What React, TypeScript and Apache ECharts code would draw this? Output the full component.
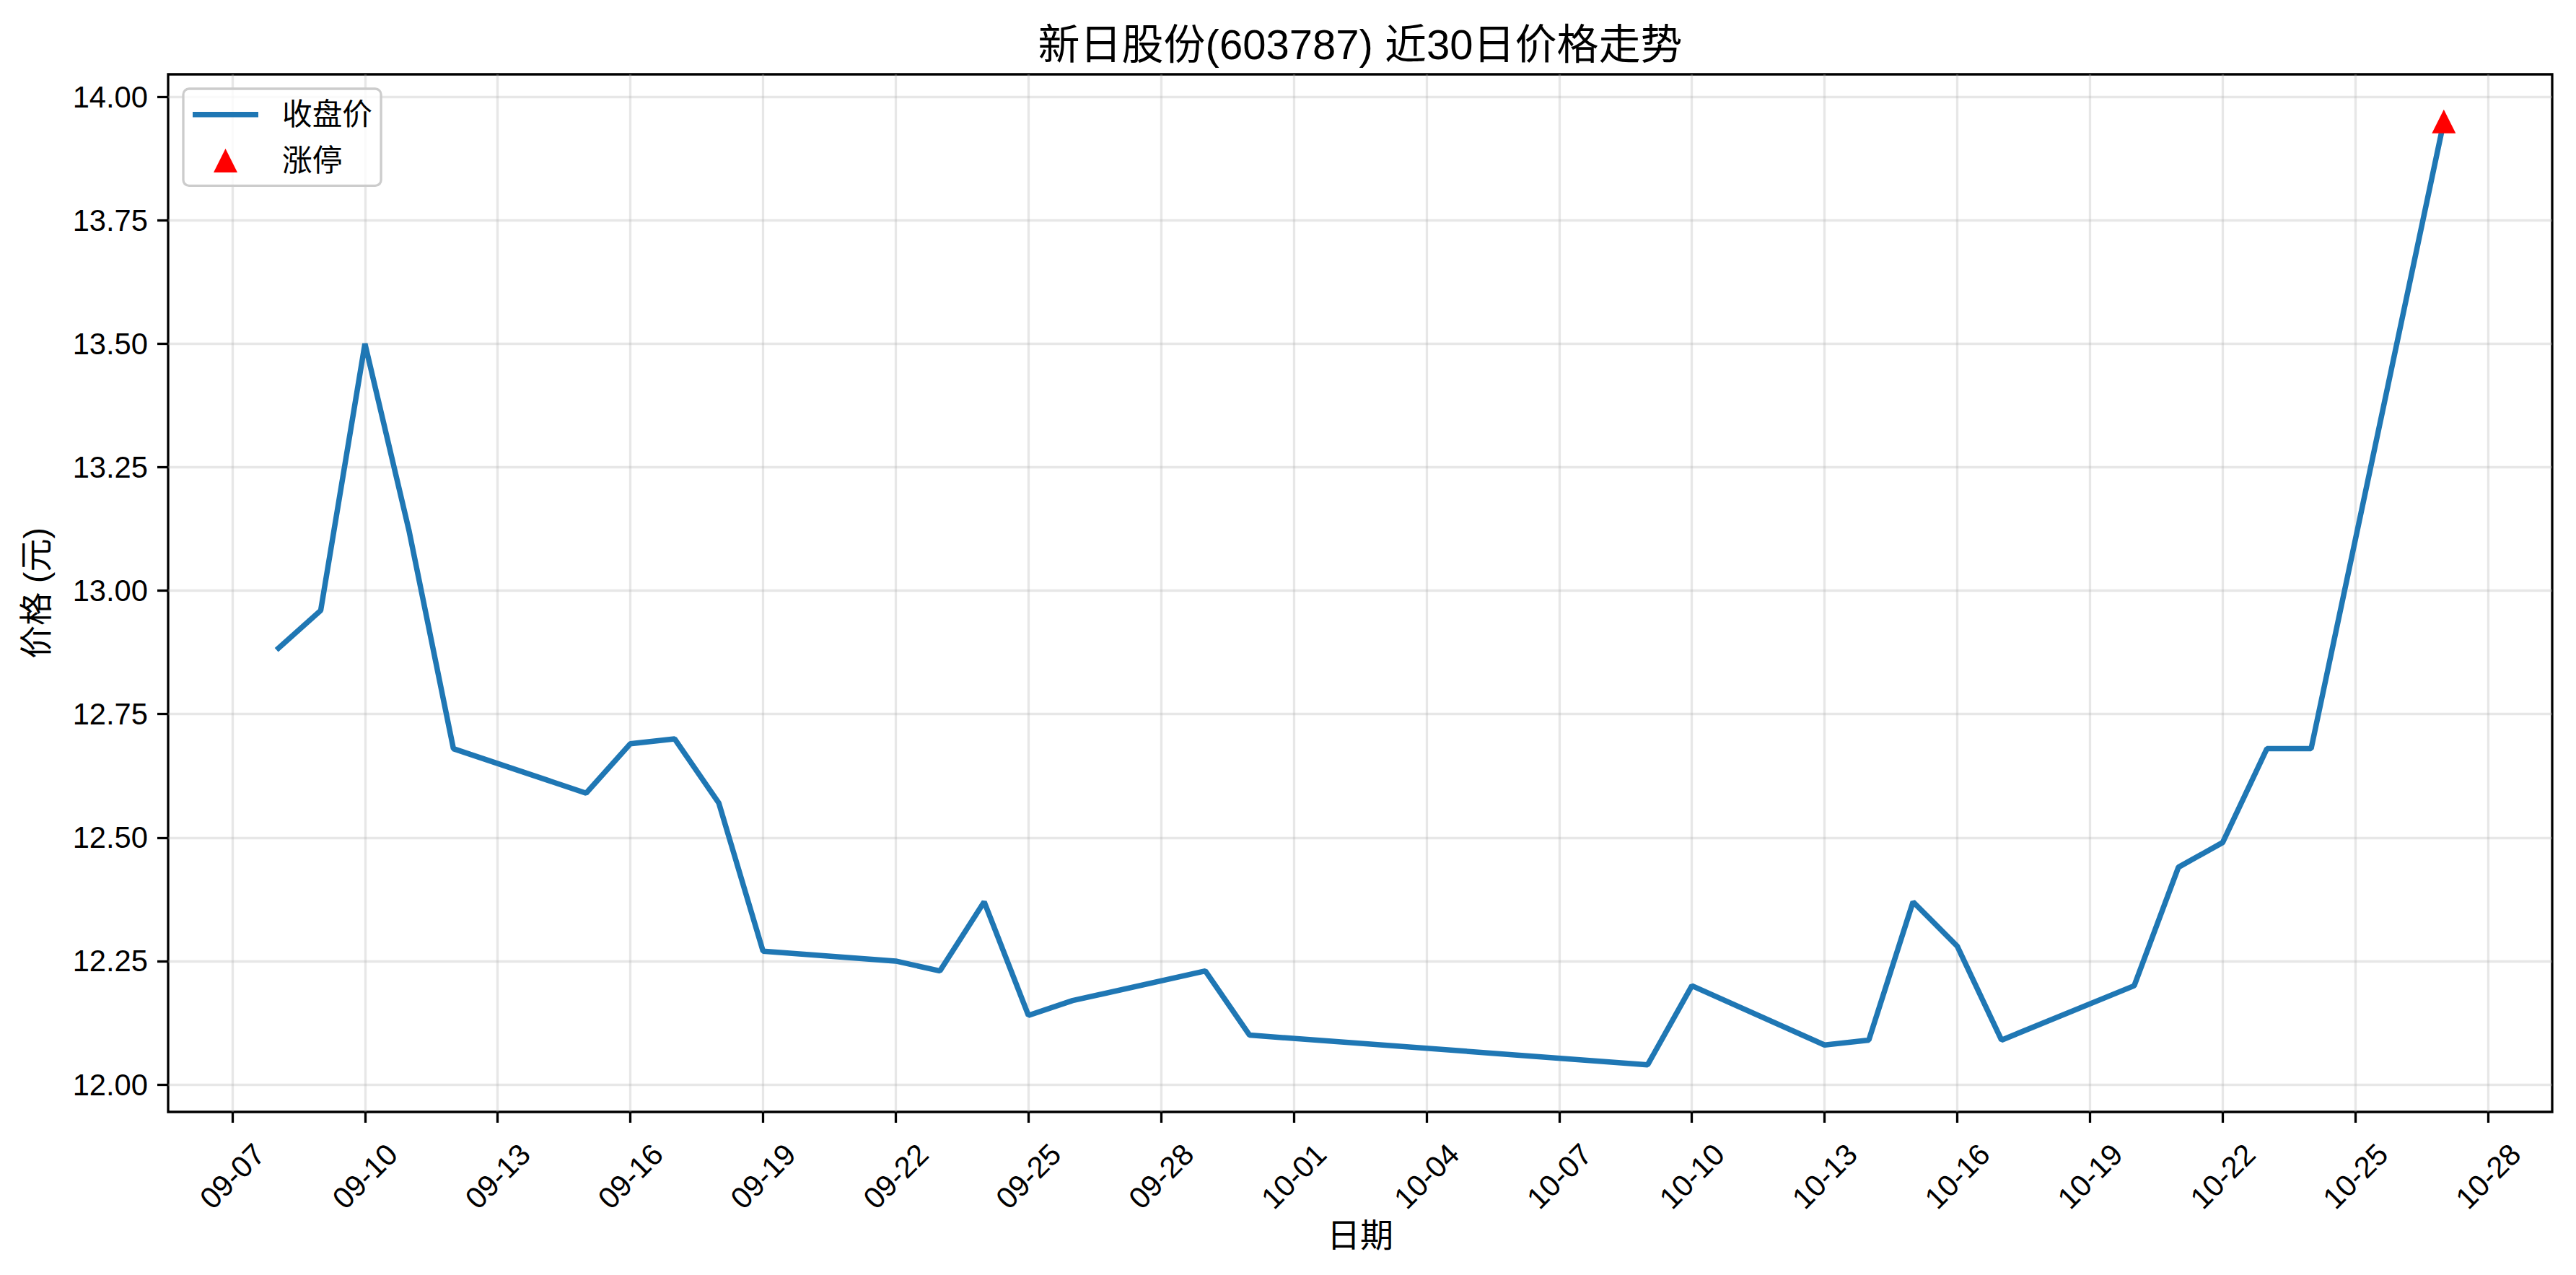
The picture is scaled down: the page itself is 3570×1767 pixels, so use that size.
import React, { useEffect, useRef } from 'react';
import * as echarts from 'echarts';

const YEAR = 2025;
const dates = ['09-08', '09-09', '09-10', '09-11', '09-12', '09-15', '09-16', '09-17', '09-18', '09-19', '09-22', '09-23', '09-24', '09-25', '09-26', '09-29', '09-30', '10-09', '10-10', '10-13', '10-14', '10-15', '10-16', '10-17', '10-20', '10-21', '10-22', '10-23', '10-24', '10-27'];
const closes = [12.88, 12.96, 13.5, 13.12, 12.68, 12.59, 12.69, 12.7, 12.57, 12.27, 12.25, 12.23, 12.37, 12.14, 12.17, 12.23, 12.1, 12.04, 12.2, 12.08, 12.09, 12.37, 12.28, 12.09, 12.2, 12.44, 12.49, 12.68, 12.68, 13.95];
const limitUpDates = ['10-27'];
const limitUpPrices = [13.95];
const xTickLabels = ['09-07', '09-10', '09-13', '09-16', '09-19', '09-22', '09-25', '09-28', '10-01', '10-04', '10-07', '10-10', '10-13', '10-16', '10-19', '10-22', '10-25', '10-28'];
const yTicks = [12.0, 12.25, 12.5, 12.75, 13.0, 13.25, 13.5, 13.75, 14.0];

const TITLE = '新日股份(603787) 近30日价格走势';
const X_NAME = '日期';
const Y_NAME = '价格 (元)';
const FONT = "'Liberation Sans', 'Noto Sans CJK SC', sans-serif";
const LINE_ICON = 'path://M0,0 L91,0 L91,7.5 L0,7.5 Z';
const TRI_ICON = 'path://M0,-1 L1,1 L-1,1 Z';

const dayNum = (mmdd: string) => {
  const [m, d] = mmdd.split('-').map(Number);
  return Date.UTC(YEAR, m - 1, d) / 86400000;
};
const fmtDay = (v: number) => {
  const dt = new Date(Math.round(v) * 86400000);
  const m = String(dt.getUTCMonth() + 1).padStart(2, '0');
  const d = String(dt.getUTCDate()).padStart(2, '0');
  return `${m}-${d}`;
};

export default function App() {
  const ref = useRef<HTMLDivElement>(null);
  useEffect(() => {
    if (!ref.current) return;
    const chart = echarts.init(ref.current, undefined, { renderer: 'svg' });
    const xs = dates.map(dayNum);
    const xMinD = Math.min(...xs);
    const xMaxD = Math.max(...xs);
    const xPad = (xMaxD - xMinD) * 0.05;
    const allY = closes.concat(limitUpPrices);
    const yMinD = Math.min(...allY);
    const yMaxD = Math.max(...allY);
    const yPad = (yMaxD - yMinD) * 0.05;
    const xTickVals = xTickLabels.map(dayNum);

    chart.setOption({
      animation: false,
      backgroundColor: '#ffffff',
      textStyle: { fontFamily: FONT },
      graphic: [
        {
          type: 'text',
          x: 1885,
          y: 61,
          style: {
            text: TITLE,
            fontSize: 58,
            fontFamily: FONT,
            fill: '#000',
            align: 'center',
            verticalAlign: 'middle',
          },
        },
      ],
      grid: {
        left: 233,
        right: 33,
        top: 103,
        bottom: 226,
        show: true,
        borderColor: '#000',
        borderWidth: 3.3,
        backgroundColor: 'transparent',
        containLabel: false,
      },
      legend: {
        left: 254,
        top: 123,
        orient: 'vertical',
        itemWidth: 91,
        itemHeight: 33,
        itemGap: 22,
        padding: [15, 12, 14, 13],
        symbolKeepAspect: true,
        borderColor: '#cccccc',
        borderWidth: 3.3,
        borderRadius: 8,
        backgroundColor: 'rgba(255,255,255,0.8)',
        itemStyle: { borderWidth: 0, opacity: 1 },
        textStyle: { fontSize: 41.7, color: '#000', fontFamily: FONT, padding: [0, 0, 0, 28] },
        data: [
          { name: '收盘价', icon: LINE_ICON, itemStyle: { color: '#1f77b4' } },
          { name: '涨停', icon: TRI_ICON, itemStyle: { color: '#ff0000' } },
        ],
      },
      xAxis: {
        type: 'value',
        min: xMinD - xPad,
        max: xMaxD + xPad,
        name: X_NAME,
        nameLocation: 'middle',
        nameGap: 146,
        nameTextStyle: { fontSize: 46, color: '#000', fontFamily: FONT },
        axisLine: { show: false },
        axisTick: { show: true, length: 15, lineStyle: { color: '#000', width: 3.3 }, customValues: xTickVals },
        axisLabel: {
          customValues: xTickVals,
          formatter: (v: number) => fmtDay(v),
          rotate: 45,
          align: 'center',
          verticalAlign: 'middle',
          margin: 89,
          fontSize: 41.7,
          color: '#000',
          fontFamily: FONT,
        },
        splitLine: { show: true, lineStyle: { color: 'rgba(176,176,176,0.3)', width: 3.3 } },
      },
      yAxis: {
        type: 'value',
        min: yMinD - yPad,
        max: yMaxD + yPad,
        name: Y_NAME,
        nameLocation: 'middle',
        nameGap: 160,
        nameRotate: 90,
        nameTextStyle: { fontSize: 46, color: '#000', fontFamily: FONT },
        axisLine: { show: false },
        axisTick: { show: true, length: 15, lineStyle: { color: '#000', width: 3.3 }, customValues: yTicks },
        axisLabel: {
          customValues: yTicks,
          formatter: (v: number) => v.toFixed(2),
          margin: 28,
          fontSize: 41.7,
          color: '#000',
          fontFamily: FONT,
        },
        splitLine: { show: true, lineStyle: { color: 'rgba(176,176,176,0.3)', width: 3.3 } },
      },
      series: [
        {
          name: '收盘价',
          type: 'line',
          data: dates.map((d, i) => [dayNum(d), closes[i]]),
          symbol: 'none',
          showSymbol: false,
          lineStyle: { color: '#1f77b4', width: 7.5 },
          itemStyle: { color: '#1f77b4' },
          z: 2,
        },
        {
          name: '涨停',
          type: 'scatter',
          data: limitUpDates.map((d, i) => [dayNum(d), limitUpPrices[i]]),
          symbol: 'triangle',
          symbolSize: 33,
          itemStyle: { color: '#ff0000', opacity: 1 },
          z: 3,
        },
      ],
    });
    return () => chart.dispose();
  }, []);
  return (
    <div
      ref={ref}
      style={{ position: 'fixed', left: 0, top: 0, width: 3570, height: 1767, background: '#fff' }}
    />
  );
}
